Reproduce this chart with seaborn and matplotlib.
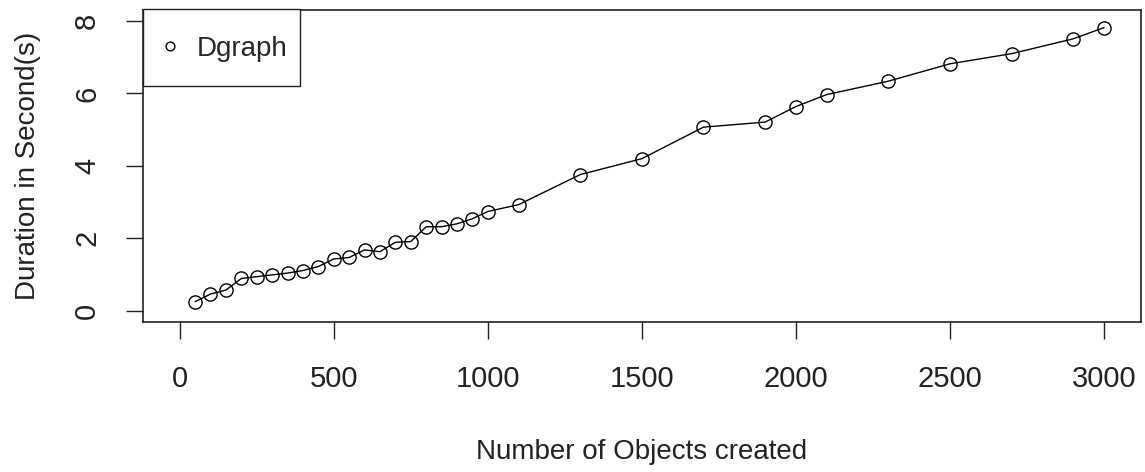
import matplotlib
matplotlib.use("Agg")
import matplotlib.pyplot as plt
from matplotlib.legend_handler import HandlerLine2D
import numpy as np
import seaborn as sns
import pandas as pd

objects = [50, 100, 150, 200, 250, 300, 350, 400, 450, 500, 550, 600, 650, 700,
           750, 800, 850, 900, 950, 1000, 1100, 1300, 1500, 1700, 1900, 2000,
           2100, 2300, 2500, 2700, 2900, 3000]
seconds = [0.25, 0.46, 0.57, 0.89, 0.94, 0.99, 1.04, 1.11, 1.22, 1.43, 1.47,
           1.68, 1.63, 1.89, 1.91, 2.32, 2.32, 2.40, 2.54, 2.74, 2.93, 3.76,
           4.20, 5.07, 5.21, 5.64, 5.97, 6.34, 6.82, 7.10, 7.51, 7.82]
series_name = "Dgraph"
x_ticks = [0, 500, 1000, 1500, 2000, 2500, 3000]
y_ticks = [0, 2, 4, 6, 8]

sns.set_theme(style="white")
plt.rcParams['font.family'] = ['Liberation Sans', 'DejaVu Sans']

df = pd.DataFrame({"n": objects, "t": seconds})

fig = plt.figure(figsize=(11.45, 4.72), dpi=100)
ax_left, ax_right, ax_top, ax_bottom = 142.7, 1141.0, 9.5, 322.3
ax = fig.add_axes([ax_left / 1145, 1 - ax_bottom / 472,
                   (ax_right - ax_left) / 1145, (ax_bottom - ax_top) / 472])

sns.lineplot(data=df, x="n", y="t", ax=ax, color="black", linewidth=1.0,
             marker="o", markersize=9.5, markerfacecolor="none",
             markeredgecolor="black", markeredgewidth=1.0, legend=False)

ink = "#222222"
ax.set_xlim(-120, 3120)
ax.set_ylim(-0.32, 8.32)
ax.set_xticks(x_ticks)
ax.set_yticks(y_ticks)
ax.set_xticklabels([str(v) for v in x_ticks], fontsize=21, color=ink)
ax.set_yticklabels([str(v) for v in y_ticks], fontsize=21, color=ink,
                   rotation=90, va="center")
ax.tick_params(axis="both", direction="out", length=12.5, width=1.0, color=ink,
               bottom=True, left=True, top=False, right=False)
ax.tick_params(axis="x", pad=18)
ax.tick_params(axis="y", pad=17.5)
for s in ax.spines.values():
    s.set_color(ink)
    s.set_linewidth(1.2)

w = ax_right - ax_left
h = ax_bottom - ax_top
ax.set_xlabel("Number of Objects created", fontsize=20, color=ink, va="center")
ax.xaxis.set_label_coords(0.5, (ax_bottom - 452) / h)
ax.set_ylabel("Duration in Second(s)", fontsize=20, color=ink, va="center")
ax.yaxis.set_label_coords((28 - ax_left) / w, 0.5)


class LoweredMarkerHandler(HandlerLine2D):
    def create_artists(self, legend, orig_handle, xdescent, ydescent, width,
                       height, fontsize, trans):
        artists = super().create_artists(legend, orig_handle, xdescent, ydescent,
                                         width, height, fontsize, trans)
        for a in artists:
            a.set_ydata(np.asarray(a.get_ydata(), dtype=float) - 5.0)
        return artists


handle = plt.Line2D([], [], linestyle="none", marker="o", markersize=6.3,
                    markerfacecolor="none", markeredgecolor="black", markeredgewidth=1.0)
leg = ax.legend([handle], [series_name], loc="upper left", bbox_to_anchor=(0, 1),
                borderaxespad=0, fancybox=False, framealpha=1, edgecolor=ink,
                fontsize=20, handlelength=1.05, handleheight=2.45,
                handletextpad=0.45, borderpad=0.45,
                handler_map={handle: LoweredMarkerHandler()})
leg.get_frame().set_linewidth(1.0)

fig.savefig("out.png", dpi=100)
